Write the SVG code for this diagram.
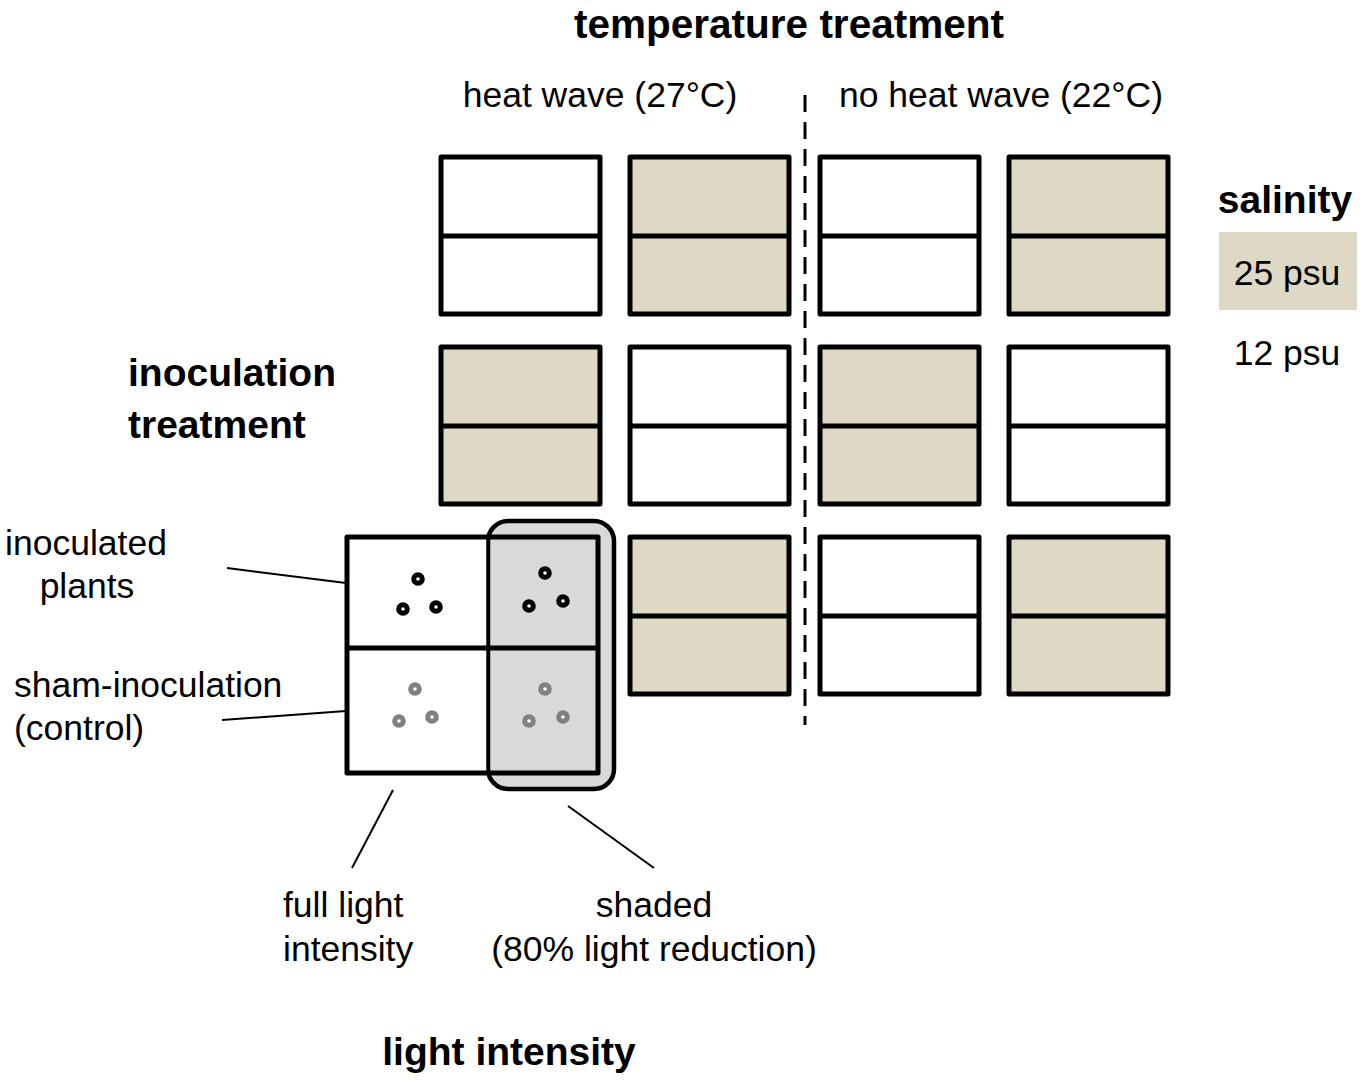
<svg xmlns="http://www.w3.org/2000/svg" width="1369" height="1081" viewBox="0 0 1369 1081">
<style>
.t{font-family:"Liberation Sans",Arial,sans-serif;font-size:35.5px;fill:#000}
.b{font-family:"Liberation Sans",Arial,sans-serif;font-size:39px;font-weight:bold;fill:#000}
.box{stroke:#000;stroke-width:5;stroke-linejoin:round}
.w{fill:#fff}
.s{fill:#ddd9c4}
.mid{stroke:#000;stroke-width:5}
.lead{stroke:#000;stroke-width:2;fill:none}
.pk{fill:#fff;stroke:#000;stroke-width:5}
.pg{fill:#fff;stroke:#808080;stroke-width:5}
</style>
<rect width="1369" height="1081" fill="#fff"/>
<g id="labels">
<text class="b" x="789" y="38" text-anchor="middle" style="font-size:40.5px">temperature treatment</text>
<text class="t" x="600" y="107" text-anchor="middle">heat wave (27°C)</text>
<text class="t" x="1001" y="107" text-anchor="middle">no heat wave (22°C)</text>
<text class="b" x="128" y="386">inoculation</text>
<text class="b" x="128" y="438">treatment</text>
<text class="b" x="509" y="1065" text-anchor="middle">light intensity</text>
<text class="t" x="86" y="555" text-anchor="middle">inoculated</text>
<text class="t" x="87" y="598" text-anchor="middle">plants</text>
<text class="t" x="14" y="697">sham-inoculation</text>
<text class="t" x="14" y="740">(control)</text>
<text class="t" x="283" y="917">full light</text>
<text class="t" x="283" y="961">intensity</text>
<text class="t" x="654" y="917" text-anchor="middle">shaded</text>
<text class="t" x="654" y="961" text-anchor="middle">(80% light reduction)</text>
</g>
<g id="legend">
<text class="b" x="1285" y="213" text-anchor="middle">salinity</text>
<rect x="1219" y="232" width="138" height="78" fill="#ddd9c4"/>
<text class="t" x="1287" y="285" text-anchor="middle">25 psu</text>
<text class="t" x="1287" y="365" text-anchor="middle">12 psu</text>
</g>
<g id="divider">
<line x1="805" y1="95" x2="805" y2="725" stroke="#000" stroke-width="3" stroke-dasharray="17,10"/>
</g>
<g id="r1c1"><rect class="box w" x="441" y="157" width="159" height="157"/><line class="mid" x1="441" y1="236" x2="600" y2="236"/></g>
<g id="r1c2"><rect class="box s" x="630" y="157" width="159" height="157"/><line class="mid" x1="630" y1="236" x2="789" y2="236"/></g>
<g id="r1c3"><rect class="box w" x="820" y="157" width="159" height="157"/><line class="mid" x1="820" y1="236" x2="979" y2="236"/></g>
<g id="r1c4"><rect class="box s" x="1009" y="157" width="159" height="157"/><line class="mid" x1="1009" y1="236" x2="1168" y2="236"/></g>
<g id="r2c1"><rect class="box s" x="441" y="347" width="159" height="157"/><line class="mid" x1="441" y1="426" x2="600" y2="426"/></g>
<g id="r2c2"><rect class="box w" x="630" y="347" width="159" height="157"/><line class="mid" x1="630" y1="426" x2="789" y2="426"/></g>
<g id="r2c3"><rect class="box s" x="820" y="347" width="159" height="157"/><line class="mid" x1="820" y1="426" x2="979" y2="426"/></g>
<g id="r2c4"><rect class="box w" x="1009" y="347" width="159" height="157"/><line class="mid" x1="1009" y1="426" x2="1168" y2="426"/></g>
<g id="r3c2"><rect class="box s" x="630" y="537" width="159" height="157"/><line class="mid" x1="630" y1="616" x2="789" y2="616"/></g>
<g id="r3c3"><rect class="box w" x="820" y="537" width="159" height="157"/><line class="mid" x1="820" y1="616" x2="979" y2="616"/></g>
<g id="r3c4"><rect class="box s" x="1009" y="537" width="159" height="157"/><line class="mid" x1="1009" y1="616" x2="1168" y2="616"/></g>
<g id="enlarged">
<rect x="488" y="521" width="126" height="268" rx="20" ry="20" fill="#d9d9d9" stroke="#000" stroke-width="4.5"/>
<rect x="347" y="537" width="141" height="236" fill="#fff"/>
<rect class="box" x="347" y="537" width="251" height="236" fill="none"/>
<line class="mid" x1="347" y1="648" x2="598" y2="648"/>
<line x1="488" y1="537" x2="488" y2="773" stroke="#000" stroke-width="3.5"/>
<circle class="pk" cx="418" cy="579" r="4.3"/><circle class="pk" cx="403" cy="609" r="4.3"/><circle class="pk" cx="436" cy="607" r="4.3"/>
<circle class="pk" cx="545" cy="573" r="4.3"/><circle class="pk" cx="529" cy="606" r="4.3"/><circle class="pk" cx="563" cy="601" r="4.3"/>
<circle class="pg" cx="415" cy="689" r="4.3"/><circle class="pg" cx="399" cy="721" r="4.3"/><circle class="pg" cx="432" cy="717" r="4.3"/>
<circle class="pg" cx="545" cy="689" r="4.3"/><circle class="pg" cx="529" cy="721" r="4.3"/><circle class="pg" cx="563" cy="717" r="4.3"/>
</g>
<g id="connectors">
<line class="lead" x1="227" y1="568" x2="346" y2="583"/>
<line class="lead" x1="222" y1="720" x2="346" y2="711"/>
<line class="lead" x1="393" y1="790" x2="352" y2="868"/>
<line class="lead" x1="568" y1="806" x2="654" y2="868"/>
</g>
</svg>
